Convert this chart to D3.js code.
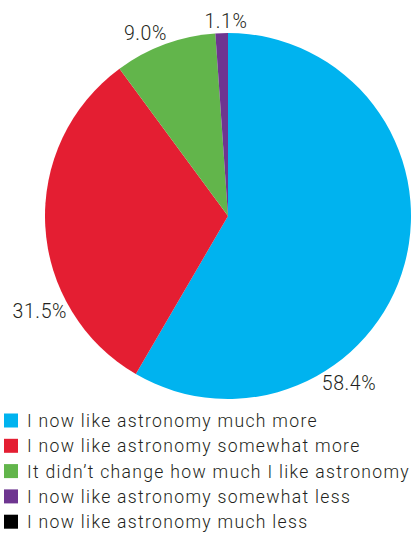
<!DOCTYPE html>
<html><head><meta charset="utf-8">
<script src="https://cdn.jsdelivr.net/npm/d3@7"></script>
<style>html,body{margin:0;padding:0;background:#fff;overflow:hidden}</style>
</head><body>
<svg id="c" width="413" height="539"></svg>
<script>
const categories = [
  "I now like astronomy much more",
  "I now like astronomy somewhat more",
  "It didn\u2019t change how much I like astronomy",
  "I now like astronomy somewhat less",
  "I now like astronomy much less"
];
const values = [58.4, 31.5, 9.0, 1.1, 0.0];
const valueLabels = ["58.4%", "31.5%", "9.0%", "1.1%", ""];
const colors = ["#00B3EF", "#E41E32", "#62B54B", "#6E3590", "#000000"];

const svg = d3.select("#c");
const cx = 228, cy = 216, R = 183;
const font = "Roboto, 'Helvetica Neue', Arial, sans-serif";

const pie = d3.pie().sort(null).value(d => d)(values);
const arc = d3.arc().innerRadius(0).outerRadius(R);
const g = svg.append("g").attr("transform", `translate(${cx},${cy})`);
g.selectAll("path").data(pie.filter(d => d.value > 0)).join("path")
  .attr("d", arc).attr("fill", (d, i) => colors[d.index]);

// label placement: fraction along slice and distance beyond rim
const labelFrac = [0.686, 0.29, 0.37, 0.85];
const labelGap = [24, 28, 17, 12];
pie.forEach((d, i) => {
  if (!valueLabels[i]) return;
  const a = d.startAngle + (d.endAngle - d.startAngle) * labelFrac[i];
  const r = R + labelGap[i];
  g.append("text")
    .attr("x", r * Math.sin(a)).attr("y", -r * Math.cos(a))
    .attr("text-anchor", "middle").attr("dominant-baseline", "central")
    .attr("font-family", font).attr("font-weight", 300).attr("font-size", 19.5)
    .attr("letter-spacing", 0.6)
    .attr("fill", "#231f20").text(valueLabels[i]);
});

// legend
const leg = svg.append("g");
categories.forEach((c, i) => {
  const y = 421 + i * 25.3;
  leg.append("rect").attr("x", 4).attr("y", y - 7.5).attr("width", 14).attr("height", 14).attr("fill", colors[i]);
  leg.append("text").attr("x", 27).attr("y", y).attr("dominant-baseline", "central")
    .attr("font-family", font).attr("font-weight", 300).attr("font-size", 17.6)
    .attr("letter-spacing", 1.3)
    .attr("fill", "#231f20").text(c);
});
</script>
</body></html>
